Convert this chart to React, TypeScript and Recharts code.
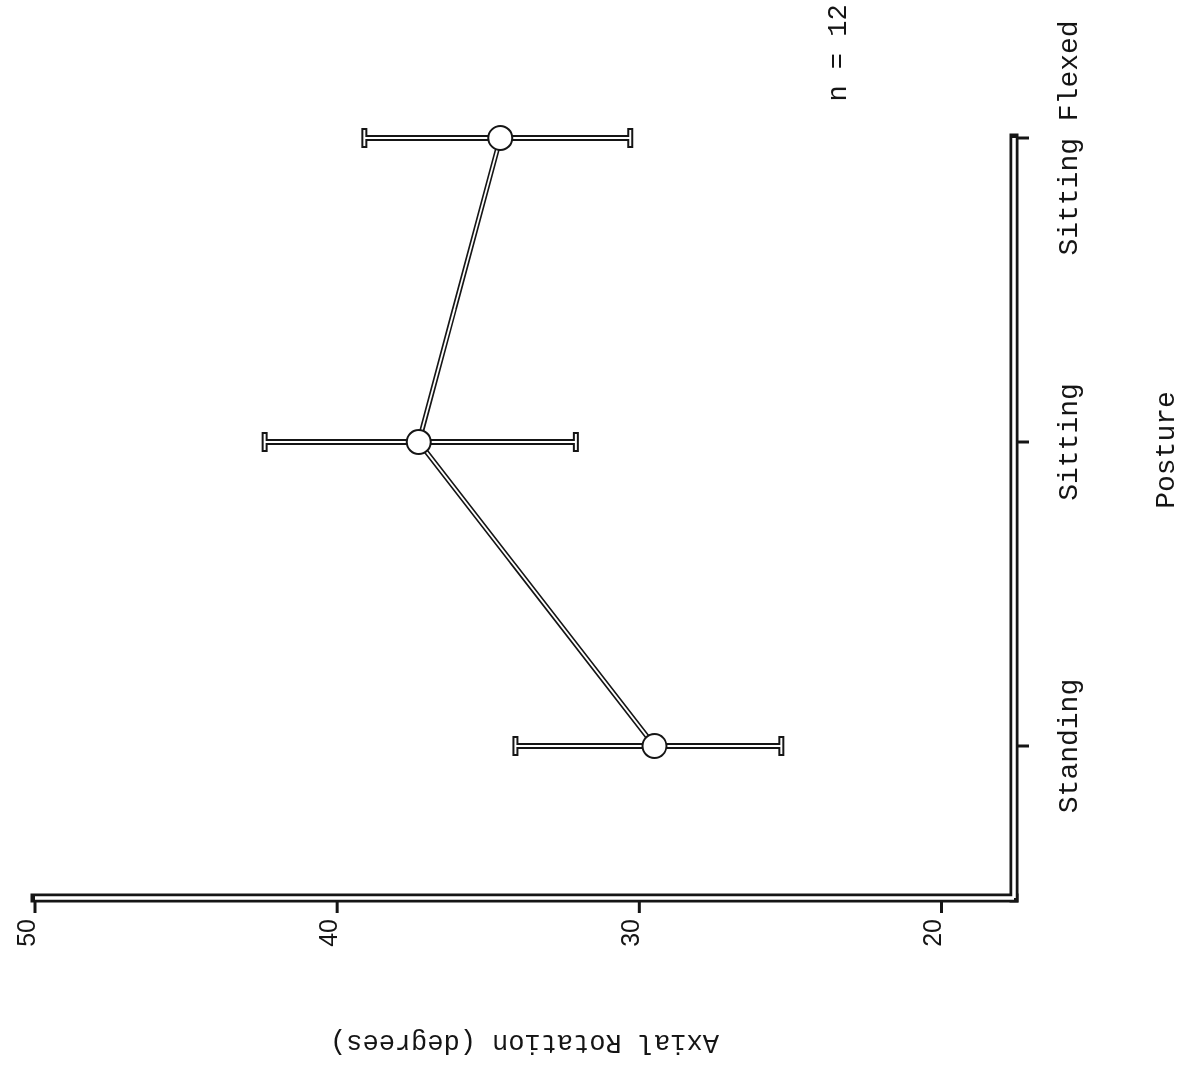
import React from "react";
import {
  LineChart,
  Line,
  XAxis,
  YAxis,
  ErrorBar,
  ReferenceLine,
  Label,
} from "recharts";

// values (mean axial rotation, degrees)
const postures = ["Standing", "Sitting", "Sitting Flexed"];
const meanRotation = [29.5, 37.3, 34.6];
const errLow = [4.2, 5.2, 4.3];
const errHigh = [4.6, 5.1, 4.5];
const yTicks = [20, 30, 40, 50];
const xTicks = [0, 1, 2];

const data = postures.map((name, i) => ({
  pos: i,
  name,
  mean: meanRotation[i],
  err: [errLow[i], errHigh[i]],
}));

const ink = "#151515";
const mono = "'Liberation Mono', 'DejaVu Sans Mono', monospace";
const sans = "'Liberation Sans', Arial, sans-serif";

const YTick = (props: any) => {
  const { x, y, payload } = props;
  return (
    <text x={x} y={y} textAnchor="end" fontFamily={sans} fontSize={25} fill={ink}>
      {payload.value}
    </text>
  );
};

const XTick = (props: any) => {
  const { x, y, payload } = props;
  return (
    <text x={x} y={y} dy="0.71em" textAnchor="middle" fontFamily={mono} fontSize={28} fill={ink}>
      {postures[payload.value]}
    </text>
  );
};

const YTitle = (props: any) => {
  const vb = props.viewBox;
  const x = vb.x + 37;
  const y = vb.y + vb.height / 2;
  return (
    <text
      x={x}
      y={y}
      transform={`rotate(-90, ${x}, ${y})`}
      textAnchor="middle"
      fontFamily={mono}
      fontSize={27}
      fill={ink}
    >
      Axial Rotation (degrees)
    </text>
  );
};

const XTitle = (props: any) => {
  const vb = props.viewBox;
  return (
    <text
      x={vb.x + vb.width / 2 + 68}
      y={vb.y + 160}
      textAnchor="middle"
      fontFamily={mono}
      fontSize={28}
      fill={ink}
    >
      Posture
    </text>
  );
};

// the figure was printed sideways, so the whole chart is drawn upright and turned
const W = 1072;
const H = 1192;

export default function App() {
  return (
    <div
      style={{
        position: "fixed",
        left: (1192 - W) / 2,
        top: (1072 - H) / 2,
        width: W,
        height: H,
        background: "#fff",
        transform: "rotate(-90deg)",
        transformOrigin: "center",
      }}
    >
      <LineChart
        width={W}
        height={H}
        data={data}
        margin={{ top: 35, right: 138, bottom: 0, left: 0 }}
      >
        <XAxis
          dataKey="pos"
          type="number"
          domain={[-0.5, 2]}
          ticks={xTicks}
          height={178}
          axisLine={{ stroke: ink, strokeWidth: 9, strokeLinecap: "square" }}
          tickLine={{ stroke: ink, strokeWidth: 3 }}
          tickSize={15}
          tickMargin={28}
          tick={<XTick />}
        >
          <Label content={<XTitle />} />
        </XAxis>
        <YAxis
          type="number"
          domain={[17.6, 50]}
          ticks={yTicks}
          width={174}
          axisLine={{ stroke: ink, strokeWidth: 9, strokeLinecap: "square" }}
          tickLine={{ stroke: ink, strokeWidth: 3 }}
          tickSize={15}
          tickMargin={6}
          tick={<YTick />}
        >
          <Label content={<YTitle />} />
        </YAxis>
        <ReferenceLine x={-0.5} stroke="#fff" strokeWidth={3.5} zIndex={700} />
        <ReferenceLine y={17.6} stroke="#fff" strokeWidth={3.5} zIndex={700} />
        <Line
          dataKey="mean"
          stroke={ink}
          strokeWidth={5}
          dot={false}
          isAnimationActive={false}
        >
          <ErrorBar dataKey="err" stroke={ink} strokeWidth={6} width={10} />
        </Line>
        <Line
          dataKey="mean"
          stroke="#fff"
          strokeWidth={1.8}
          dot={{ r: 12, fill: "#fff", stroke: ink, strokeWidth: 2 }}
          isAnimationActive={false}
        >
          <ErrorBar dataKey="err" stroke="#fff" strokeWidth={2} width={8} />
        </Line>
      </LineChart>
      <svg
        width={W}
        height={H}
        style={{ position: "absolute", left: 0, top: 0, pointerEvents: "none" }}
      >
        <text x={1019} y={846} textAnchor="middle" fontFamily={mono} fontSize={27} fill={ink}>
          n = 12
        </text>
      </svg>
    </div>
  );
}
